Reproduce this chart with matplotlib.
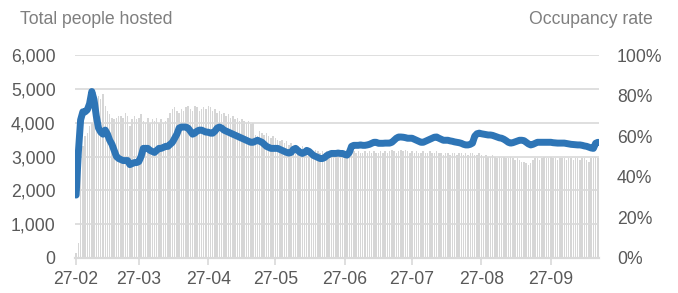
import numpy as np
import pandas as pd
import matplotlib
matplotlib.use("Agg")
import matplotlib.pyplot as plt
from matplotlib.ticker import FuncFormatter

plt.rcParams['font.family'] = ['Liberation Sans', 'DejaVu Sans']

# Daily totals of people hosted (left axis), one value per day from 27 Feb
hosted = [
    150, 450, 2600, 3300, 3600, 3700, 3900, 4000, 4200, 4500,
    4800, 4700, 4850, 4500, 4350, 4250, 4150, 4100, 4150, 4200,
    4200, 4150, 4300, 4200, 3900, 4100, 4200, 4100, 4150, 4250,
    4050, 4000, 4150, 4000, 4100, 4050, 4150, 4000, 4100, 4000,
    4050, 4150, 4300, 4400, 4450, 4350, 4300, 4400, 4350, 4450,
    4500, 4400, 4350, 4500, 4450, 4350, 4400, 4450, 4400, 4500,
    4450, 4350, 4400, 4300, 4350, 4250, 4300, 4200, 4250, 4150,
    4200, 4100, 4150, 4050, 4100, 4050, 4000, 4050, 3950, 4000,
    3650, 3600, 3750, 3700, 3650, 3700, 3600, 3550, 3600, 3550,
    3500, 3450, 3500, 3400, 3450, 3350, 3400, 3300, 3350, 3300,
    3250, 3300, 3250, 3200, 3250, 3200, 3150, 3200, 3150, 3100,
    3150, 3100, 3150, 3100, 3150, 3100, 3100, 3150, 3100, 3150,
    3100, 3150, 3100, 3100, 3150, 3100, 3150, 3100, 3100, 3150,
    3100, 3150, 3100, 3150, 3100, 3100, 3150, 3100, 3150, 3100,
    3150, 3200, 3150, 3100, 3150, 3200, 3150, 3200, 3150, 3100,
    3150, 3100, 3150, 3100, 3100, 3150, 3100, 3100, 3150, 3100,
    3100, 3150, 3100, 3100, 3050, 3100, 3100, 3050, 3100, 3100,
    3050, 3100, 3100, 3050, 3100, 3050, 3100, 3100, 3050, 3050,
    3100, 3050, 3000, 3050, 3000, 3000, 3050, 3000, 2950, 3000,
    2950, 3000, 2950, 2950, 3000, 2950, 2900, 2950, 2900, 2850,
    2850, 2800, 2750, 2800, 2900, 2950, 2950, 2900, 2950, 3000,
    2950, 2950, 3000, 2950, 2950, 2900, 2950, 2950, 2950, 2900,
    2950, 2950, 2900, 2950, 2950, 2900, 2950, 2950, 2900, 2850,
    2950, 2950, 3000, 2950,
]

# Occupancy rate in percent (right axis)
occupancy = [
    31, 52, 68, 72, 72, 73, 76, 82, 78, 70,
    64, 62, 61, 63, 61, 58, 56, 53, 50, 49,
    48.5, 48, 48, 48, 46, 46.5, 47, 47, 47.5, 50,
    54, 54, 54, 53, 52.5, 52, 53, 54, 54, 54.5,
    55, 55, 56, 57, 59, 61, 64, 64.5, 64.5, 64.5,
    64, 62.5, 61, 61.5, 62.5, 63, 63, 62.5, 62, 62,
    61.5, 61.5, 62.5, 64, 64.5, 64, 63, 62.5, 62, 61.5,
    61, 60.5, 60, 59.5, 59, 58.5, 58, 57.5, 57, 57,
    57.5, 58, 57.5, 57, 56, 55, 54.5, 54, 54, 54,
    54, 53.5, 53, 52.5, 52, 51.7, 52, 53.5, 54, 53,
    52, 51.5, 52, 53, 52.5, 51.5, 50.5, 50, 49.5, 49,
    49, 49.5, 50.5, 51, 51.5, 51.5, 51.5, 51.7, 51.5, 51.5,
    51, 50.7, 52, 55, 55.5, 55.5, 55.5, 55.7, 55.5, 55.5,
    55.7, 56, 56.5, 57, 57, 56.5, 56.5, 56.5, 56.6, 56.6,
    56.6, 57, 58, 59, 59.6, 59.6, 59.5, 59.3, 59, 59,
    59, 58.5, 58, 57.5, 57, 57, 57.5, 58, 58.5, 59,
    59.5, 59.6, 59, 58.5, 58, 58, 58, 57.7, 57.5, 57.2,
    57, 56.8, 56.5, 56, 55.7, 55.7, 56, 56.6, 60, 61.2,
    61.5, 61.2, 61, 60.8, 60.6, 60.6, 60.4, 60, 59.6, 59.2,
    59, 58.5, 57.8, 57, 56.6, 56.8, 57.2, 57.6, 58, 58,
    57.8, 57, 56.2, 55.7, 56, 56.5, 57, 57, 57, 57,
    57, 57, 57, 56.8, 56.7, 56.6, 56.6, 56.6, 56.6, 56.4,
    56.2, 56, 55.9, 55.8, 55.7, 55.7, 55.5, 55.2, 55, 54.6,
    54.2, 54, 56.5, 57,
]

start_date = '2022-02-27'
tick_dates = ['2022-02-27', '2022-03-27', '2022-04-27', '2022-05-27',
              '2022-06-27', '2022-07-27', '2022-08-27', '2022-09-27']
tick_labels = ['27-02', '27-03', '27-04', '27-05', '27-06', '27-07', '27-08', '27-09']

dates = pd.date_range(start_date, periods=len(hosted), freq='D')

fig = plt.figure(figsize=(6.78, 2.93), dpi=100)
ax = fig.add_axes([75 / 678, 1 - 258 / 293, 524 / 678, 203 / 293])
ax2 = ax.twinx()

ax.bar(dates, hosted, width=0.65, color='#d6d6d6', zorder=1)
for v in range(1000, 7000, 1000):
    ax.axhline(v, color='#d9d9d9', lw=1.2, zorder=2)

ax2.plot(dates, np.array(occupancy) / 100, color='#2e75b6', lw=5,
         solid_joinstyle='round', solid_capstyle='round', zorder=3)

ax.set_ylim(0, 6000)
ax2.set_ylim(0, 1)
ax.set_xlim(dates[0] - pd.Timedelta(hours=12), dates[-1] + pd.Timedelta(hours=12))

ax.set_yticks(range(0, 7000, 1000))
ax.yaxis.set_major_formatter(FuncFormatter(lambda v, p: f'{v:,.0f}'))
ax2.set_yticks(np.arange(0, 1.01, 0.2))
ax2.yaxis.set_major_formatter(FuncFormatter(lambda v, p: f'{v * 100:.0f}%'))

ax.set_xticks(pd.to_datetime(tick_dates))
ax.set_xticklabels(tick_labels)

fs = 12.7
for a in (ax, ax2):
    for s in ('top', 'left', 'right'):
        a.spines[s].set_visible(False)
    a.spines['bottom'].set_color('#d9d9d9')
    a.spines['bottom'].set_linewidth(1.5)
    a.tick_params(axis='y', length=0, labelsize=fs, colors='#595959')
ax.tick_params(axis='y', pad=14)
ax2.tick_params(axis='y', pad=13)
ax.tick_params(axis='x', length=5, width=1.2, color='#d9d9d9', labelsize=fs,
               labelcolor='#595959', pad=4)

fig.text(20 / 678, 1 - 20 / 293, 'Total people hosted', fontsize=fs,
         color='#7f7f7f', ha='left', va='center')
fig.text(653 / 678, 1 - 20 / 293, 'Occupancy rate', fontsize=fs,
         color='#7f7f7f', ha='right', va='center')

fig.savefig('out.png', dpi=100)
